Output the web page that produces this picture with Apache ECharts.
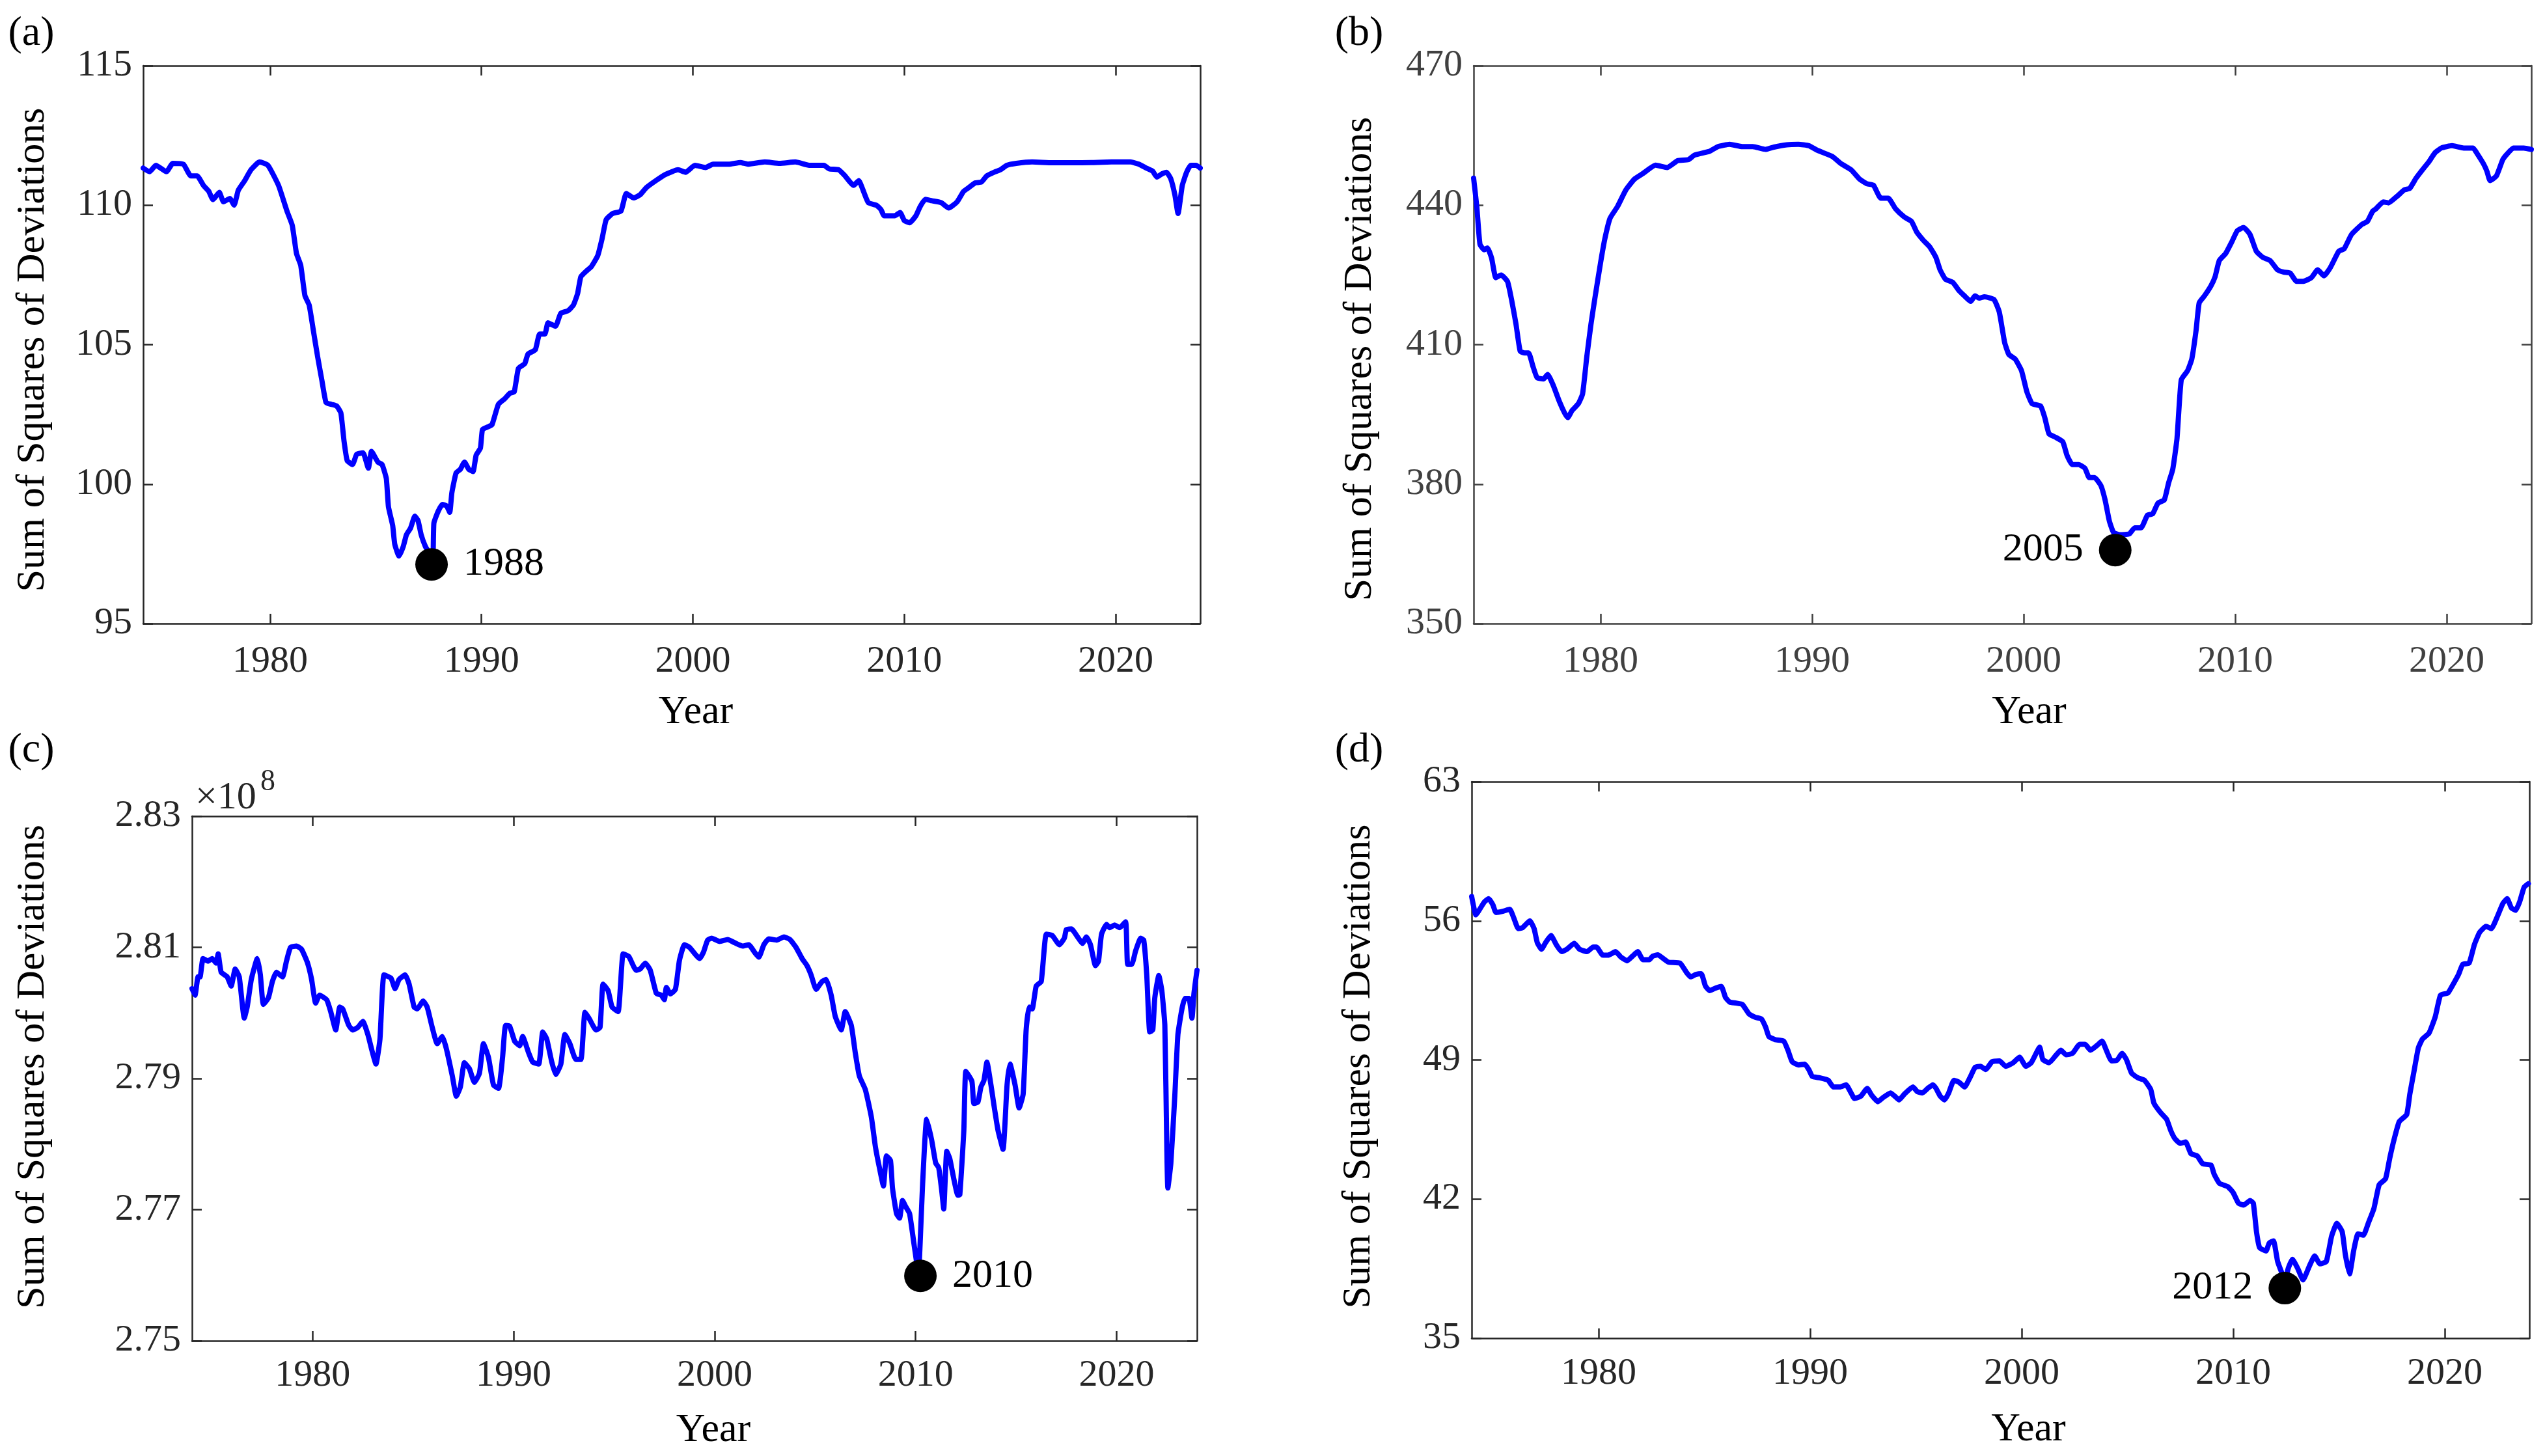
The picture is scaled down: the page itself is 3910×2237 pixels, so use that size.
<!DOCTYPE html>
<html>
<head>
<meta charset="utf-8">
<script src="https://cdn.jsdelivr.net/npm/echarts@6/dist/echarts.min.js"></script>
<style>
html,body{margin:0;padding:0;background:#fff;}
#chart{width:3910px;height:2237px;}
</style>
</head>
<body>
<div id="chart"></div>
<script>
// ---------------- data ----------------
const xTicks = [1980, 1990, 2000, 2010, 2020];
const yTicksA = [95, 100, 105, 110, 115];
const yTicksB = [350, 380, 410, 440, 470];
const yTicksC = [2.75, 2.77, 2.79, 2.81, 2.83];   // x 10^8
const yTicksD = [35, 42, 49, 56, 63];

const panelLabels = ['(a)', '(b)', '(c)', '(d)'];
const yName = 'Sum of Squares of Deviations';
const xName = 'Year';

// minimum markers [year, value] and their labels
const markA = [1987.64, 97.12];  const markLabelA = '1988';
const markB = [2004.33, 365.8];  const markLabelB = '2005';
const markC = [2010.24, 2.7599]; const markLabelC = '2010';
const markD = [2012.44, 37.52];  const markLabelD = '2012';

const seriesA = [
[1974.0,111.33],[1974.3,111.2],[1974.6,111.43],[1975.1,111.2],[1975.4,111.5],[1975.9,111.47],
[1976.25,111.05],[1976.55,111.05],[1976.85,110.71],[1977.1,110.5],[1977.3,110.2],[1977.6,110.46],
[1977.8,110.12],[1978.1,110.24],[1978.3,110.0],[1978.5,110.54],[1978.8,110.88],[1979.1,111.27],
[1979.5,111.55],[1979.9,111.43],[1980.4,110.71],[1980.8,109.79],[1981.05,109.28],[1981.25,108.27],
[1981.45,107.85],[1981.65,106.76],[1981.85,106.42],[1982.05,105.5],[1982.25,104.57],[1982.45,103.73],
[1982.65,102.92],[1982.9,102.86],[1983.15,102.8],[1983.35,102.55],[1983.5,101.54],[1983.65,100.84],
[1983.9,100.7],[1984.1,101.07],[1984.4,101.12],[1984.65,100.57],[1984.8,101.17],[1985.1,100.79],
[1985.3,100.7],[1985.5,100.2],[1985.6,99.19],[1985.8,98.52],[1985.9,97.84],[1986.1,97.42],
[1986.3,97.76],[1986.45,98.18],[1986.65,98.43],[1986.85,98.85],[1987.0,98.69],[1987.15,98.18],
[1987.35,97.76],[1987.55,97.51],[1987.7,97.3],[1987.75,98.6],[1987.95,99.02],[1988.15,99.27],
[1988.35,99.22],[1988.5,98.99],[1988.6,99.69],[1988.8,100.4],[1989.0,100.53],[1989.2,100.79],
[1989.4,100.53],[1989.6,100.45],[1989.75,101.04],[1989.95,101.29],[1990.05,101.96],[1990.3,102.05],
[1990.5,102.13],[1990.8,102.86],[1991.1,103.06],[1991.35,103.26],[1991.55,103.31],[1991.75,104.15],
[1992.05,104.32],[1992.2,104.66],[1992.55,104.82],[1992.75,105.38],[1993.0,105.38],[1993.15,105.78],
[1993.5,105.66],[1993.75,106.12],[1994.1,106.22],[1994.35,106.42],[1994.55,106.84],[1994.7,107.43],
[1994.95,107.63],[1995.2,107.8],[1995.5,108.19],[1995.7,108.78],[1995.9,109.48],[1996.2,109.7],
[1996.6,109.79],[1996.85,110.42],[1997.2,110.26],[1997.5,110.37],[1997.8,110.63],[1998.25,110.88],
[1998.7,111.1],[1999.3,111.27],[1999.65,111.18],[2000.1,111.43],[2000.6,111.35],[2000.95,111.47],
[2001.7,111.47],[2002.25,111.53],[2002.6,111.47],[2003.4,111.55],[2004.1,111.5],[2004.85,111.55],
[2005.5,111.43],[2006.2,111.43],[2006.45,111.3],[2006.9,111.27],[2007.2,111.05],[2007.6,110.71],
[2007.85,110.88],[2008.05,110.54],[2008.3,110.09],[2008.7,109.99],[2008.9,109.84],[2009.05,109.62],
[2009.55,109.62],[2009.8,109.74],[2010.0,109.45],[2010.25,109.37],[2010.55,109.62],[2010.75,109.95],
[2011.0,110.21],[2011.3,110.16],[2011.75,110.09],[2012.1,109.9],[2012.5,110.12],[2012.8,110.49],
[2013.05,110.63],[2013.35,110.8],[2013.65,110.83],[2013.9,111.05],[2014.3,111.2],[2014.55,111.27],
[2014.85,111.43],[2015.3,111.5],[2016.05,111.55],[2017.0,111.52],[2017.95,111.52],[2018.85,111.53],
[2019.8,111.55],[2020.7,111.55],[2021.1,111.47],[2021.45,111.33],[2021.75,111.22],[2021.95,111.01],
[2022.2,111.13],[2022.4,111.18],[2022.6,110.96],[2022.8,110.37],[2022.95,109.7],[2023.15,110.71],
[2023.35,111.17],[2023.55,111.43],[2023.8,111.43],[2024.0,111.33]
];

const seriesB = [
[1974.0,445.8],[1974.15,439.7],[1974.3,431.6],[1974.5,430.4],[1974.65,430.8],[1974.85,428.6],
[1975.05,424.4],[1975.3,425.0],[1975.6,423.6],[1975.8,419.5],[1976.0,414.5],[1976.2,408.6],
[1976.4,408.2],[1976.6,408.2],[1976.8,405.4],[1977.0,402.9],[1977.3,402.6],[1977.5,403.6],
[1977.75,401.4],[1978.05,397.8],[1978.3,395.3],[1978.45,394.3],[1978.65,395.8],[1978.95,397.3],
[1979.15,399.4],[1979.35,407.4],[1979.55,414.5],[1979.75,420.5],[1980.0,427.6],[1980.2,432.7],
[1980.45,437.2],[1980.8,439.7],[1981.2,443.3],[1981.6,445.6],[1982.0,446.8],[1982.6,448.6],
[1983.15,448.1],[1983.65,449.6],[1984.15,449.8],[1984.45,450.8],[1985.15,451.6],[1985.55,452.6],
[1986.1,453.1],[1986.7,452.6],[1987.2,452.6],[1987.8,452.0],[1988.2,452.5],[1988.8,453.0],
[1989.35,453.1],[1989.85,452.8],[1990.25,451.8],[1990.95,450.5],[1991.35,449.0],[1991.85,447.6],
[1992.25,445.6],[1992.6,444.6],[1992.9,444.3],[1993.25,441.5],[1993.6,441.5],[1993.95,439.2],
[1994.35,437.5],[1994.7,436.5],[1994.95,434.2],[1995.25,432.5],[1995.55,431.1],[1995.85,428.8],
[1996.05,426.1],[1996.3,424.1],[1996.65,423.4],[1996.95,421.6],[1997.2,420.5],[1997.5,419.3],
[1997.7,420.5],[1997.9,420.0],[1998.15,420.3],[1998.6,419.7],[1998.85,417.0],[1999.1,410.5],
[1999.3,407.9],[1999.6,406.9],[1999.9,404.4],[2000.15,399.9],[2000.4,397.3],[2000.8,396.8],
[2001.0,394.3],[2001.2,390.8],[2001.5,390.1],[2001.85,389.1],[2002.05,386.2],[2002.3,384.2],
[2002.6,384.2],[2002.9,383.4],[2003.1,381.4],[2003.35,381.4],[2003.65,379.7],[2003.85,376.6],
[2004.05,372.1],[2004.25,369.6],[2004.55,369.1],[2005.0,369.3],[2005.25,370.6],[2005.55,370.6],
[2005.85,373.3],[2006.1,373.6],[2006.35,375.9],[2006.65,376.6],[2006.85,380.2],[2007.05,383.2],
[2007.25,389.8],[2007.45,402.4],[2007.75,404.4],[2007.95,406.9],[2008.15,413.0],[2008.3,419.0],
[2008.55,420.5],[2008.85,422.6],[2009.05,424.6],[2009.25,428.1],[2009.55,429.6],[2009.85,432.2],
[2010.1,434.5],[2010.4,435.2],[2010.7,433.7],[2011.0,430.1],[2011.3,428.8],[2011.65,428.1],
[2012.0,426.1],[2012.3,425.6],[2012.6,425.4],[2012.9,423.6],[2013.2,423.6],[2013.6,424.4],
[2013.9,426.1],[2014.2,424.8],[2014.5,426.6],[2014.9,430.1],[2015.15,430.6],[2015.5,433.7],
[2016.0,435.9],[2016.25,436.5],[2016.5,438.7],[2016.65,439.2],[2017.0,440.7],[2017.25,440.5],
[2017.65,441.9],[2018.0,443.3],[2018.25,443.6],[2018.55,445.8],[2018.85,447.6],[2019.15,449.3],
[2019.45,451.3],[2019.75,452.3],[2020.25,452.8],[2020.8,452.3],[2021.25,452.3],[2021.45,451.0],
[2021.75,448.8],[2021.9,447.3],[2022.05,445.3],[2022.35,446.3],[2022.65,449.8],[2022.85,451.0],
[2023.15,452.3],[2023.65,452.3],[2024.0,452.0]
];

// values in units of 10^8
const seriesC = [
[1974.0,2.8037],[1974.15,2.8027],[1974.3,2.8055],[1974.4,2.8055],[1974.55,2.8083],[1974.8,2.8079],
[1975.0,2.8083],[1975.2,2.8076],[1975.3,2.809],[1975.45,2.8062],[1975.75,2.8055],[1975.95,2.8041],
[1976.15,2.8067],[1976.35,2.8055],[1976.6,2.7992],[1976.75,2.801],[1976.95,2.8051],[1977.25,2.8083],
[1977.4,2.8058],[1977.55,2.8013],[1977.8,2.8023],[1978.0,2.8048],[1978.2,2.8062],[1978.5,2.8055],
[1978.7,2.8079],[1978.9,2.81],[1979.2,2.8102],[1979.45,2.8097],[1979.75,2.8076],[1979.95,2.8051],
[1980.15,2.8015],[1980.35,2.8027],[1980.7,2.802],[1980.9,2.8002],[1981.15,2.7974],[1981.35,2.8009],
[1981.5,2.8006],[1981.8,2.7981],[1982.0,2.7974],[1982.25,2.7978],[1982.5,2.7987],[1982.75,2.7967],
[1982.95,2.7943],[1983.15,2.7922],[1983.35,2.796],[1983.55,2.8058],[1983.9,2.8053],[1984.1,2.8037],
[1984.3,2.8051],[1984.6,2.8058],[1984.8,2.8044],[1985.05,2.8009],[1985.2,2.8006],[1985.5,2.8018],
[1985.7,2.8009],[1985.95,2.7978],[1986.2,2.7953],[1986.45,2.7964],[1986.65,2.7946],[1986.95,2.7904],
[1987.15,2.7873],[1987.35,2.7887],[1987.55,2.7924],[1987.8,2.7915],[1988.05,2.7894],[1988.3,2.7908],
[1988.5,2.7953],[1988.75,2.7932],[1989.0,2.789],[1989.25,2.7885],[1989.45,2.7932],[1989.6,2.7981],
[1989.8,2.798],[1990.05,2.7957],[1990.3,2.795],[1990.45,2.7964],[1990.75,2.7939],[1990.95,2.7925],
[1991.25,2.7922],[1991.45,2.7971],[1991.65,2.796],[1991.9,2.7925],[1992.1,2.7906],[1992.35,2.7922],
[1992.55,2.7967],[1992.8,2.7953],[1993.1,2.7929],[1993.35,2.7929],[1993.55,2.8001],[1993.75,2.7992],
[1994.1,2.7974],[1994.3,2.7978],[1994.45,2.8044],[1994.7,2.8034],[1994.9,2.8009],[1995.2,2.8002],
[1995.45,2.809],[1995.73,2.8086],[1996.1,2.8065],[1996.3,2.8067],[1996.55,2.8076],[1996.8,2.8065],
[1997.1,2.803],[1997.35,2.8027],[1997.5,2.802],[1997.6,2.8039],[1997.8,2.8029],[1998.05,2.8036],
[1998.25,2.808],[1998.5,2.8104],[1998.75,2.81],[1999.25,2.8083],[1999.45,2.8093],[1999.65,2.8111],
[1999.85,2.8114],[2000.25,2.8109],[2000.65,2.8112],[2001.0,2.8107],[2001.4,2.8102],[2001.7,2.8104],
[2002.0,2.8092],[2002.2,2.8085],[2002.45,2.8104],[2002.7,2.8113],[2003.1,2.8111],[2003.45,2.8116],
[2003.75,2.8112],[2004.05,2.81],[2004.35,2.8083],[2004.6,2.8072],[2004.8,2.8058],[2005.05,2.8036],
[2005.35,2.8048],[2005.55,2.8051],[2005.8,2.8027],[2006.0,2.7995],[2006.3,2.7974],[2006.5,2.8002],
[2006.8,2.7981],[2007.0,2.7939],[2007.2,2.7904],[2007.5,2.7883],[2007.8,2.7841],[2008.0,2.7796],
[2008.2,2.7764],[2008.4,2.7736],[2008.55,2.7782],[2008.75,2.7775],[2008.85,2.7733],[2009.05,2.7694],
[2009.2,2.7687],[2009.35,2.7714],[2009.5,2.7705],[2009.7,2.7694],[2009.9,2.7652],[2010.05,2.762],
[2010.15,2.7605],[2010.22,2.7645],[2010.35,2.774],[2010.55,2.7838],[2010.8,2.7806],[2011.0,2.7771],
[2011.15,2.7764],[2011.3,2.7729],[2011.4,2.7701],[2011.55,2.7789],[2011.7,2.7778],[2011.9,2.7747],
[2012.1,2.7722],[2012.2,2.7723],[2012.4,2.7821],[2012.5,2.7911],[2012.8,2.7896],[2012.9,2.7862],
[2013.1,2.7864],[2013.25,2.7887],[2013.4,2.7897],[2013.55,2.7925],[2013.75,2.789],[2013.9,2.7859],
[2014.1,2.7821],[2014.35,2.7792],[2014.55,2.789],[2014.7,2.7922],[2014.95,2.789],[2015.15,2.7855],
[2015.35,2.7876],[2015.5,2.7974],[2015.65,2.8009],[2015.8,2.8006],[2016.0,2.8041],[2016.25,2.8048],
[2016.5,2.812],[2016.8,2.8118],[2017.15,2.8104],[2017.4,2.8114],[2017.5,2.8127],[2017.75,2.8128],
[2018.1,2.8114],[2018.3,2.8106],[2018.5,2.8116],[2018.7,2.8104],[2018.95,2.8072],[2019.1,2.8079],
[2019.25,2.812],[2019.5,2.8135],[2019.65,2.813],[2019.9,2.8134],[2020.15,2.813],[2020.45,2.8139],
[2020.55,2.8074],[2020.75,2.8074],[2020.95,2.8095],[2021.2,2.8114],[2021.35,2.8111],[2021.5,2.8058],
[2021.65,2.7971],[2021.8,2.7974],[2021.9,2.8023],[2022.1,2.8057],[2022.25,2.8034],[2022.4,2.7981],
[2022.5,2.7792],[2022.55,2.7733],[2022.7,2.7771],[2022.9,2.7876],[2023.05,2.7967],[2023.25,2.8006],
[2023.4,2.8022],[2023.6,2.8022],[2023.75,2.7992],[2023.85,2.803],[2024.0,2.8065]
];

const seriesD = [
[1974.0,57.22],[1974.2,56.3],[1974.35,56.53],[1974.6,56.95],[1974.8,57.11],[1975.0,56.81],
[1975.15,56.42],[1975.5,56.49],[1975.8,56.58],[1976.0,56.12],[1976.2,55.61],[1976.4,55.65],
[1976.75,56.0],[1976.95,55.61],[1977.1,54.91],[1977.3,54.57],[1977.5,54.91],[1977.75,55.26],
[1978.0,54.8],[1978.25,54.45],[1978.5,54.57],[1978.85,54.87],[1979.1,54.57],[1979.45,54.45],
[1979.75,54.68],[1979.9,54.68],[1980.2,54.27],[1980.45,54.27],[1980.8,54.45],[1981.05,54.18],
[1981.35,53.99],[1981.6,54.22],[1981.85,54.45],[1982.1,54.04],[1982.4,54.04],[1982.55,54.22],
[1982.8,54.29],[1983.05,54.11],[1983.3,53.92],[1983.85,53.87],[1984.15,53.41],[1984.35,53.18],
[1984.6,53.3],[1984.85,53.34],[1985.05,52.72],[1985.25,52.49],[1985.5,52.6],[1985.8,52.7],
[1986.0,52.14],[1986.2,51.91],[1986.5,51.86],[1986.8,51.79],[1987.1,51.33],[1987.4,51.15],
[1987.7,51.06],[1987.9,50.64],[1988.05,50.18],[1988.35,50.02],[1988.75,49.95],[1988.95,49.49],
[1989.15,48.91],[1989.45,48.75],[1989.75,48.79],[1989.95,48.49],[1990.1,48.17],[1990.45,48.1],
[1990.85,47.98],[1991.1,47.64],[1991.4,47.64],[1991.7,47.75],[1991.9,47.41],[1992.1,47.06],
[1992.4,47.18],[1992.7,47.57],[1992.9,47.24],[1993.2,46.9],[1993.45,47.11],[1993.8,47.34],
[1994.0,47.18],[1994.2,46.99],[1994.46,47.29],[1994.86,47.64],[1995.06,47.41],[1995.3,47.34],
[1995.56,47.57],[1995.8,47.75],[1995.95,47.57],[1996.15,47.18],[1996.35,46.99],[1996.55,47.34],
[1996.8,47.98],[1997.05,47.87],[1997.3,47.64],[1997.55,48.1],[1997.8,48.63],[1998.05,48.68],
[1998.3,48.52],[1998.6,48.91],[1998.95,48.95],[1999.25,48.68],[1999.6,48.86],[1999.9,49.14],
[2000.2,48.68],[2000.45,48.86],[2000.7,49.37],[2000.85,49.65],[2001.0,49.02],[2001.3,48.86],
[2001.6,49.21],[2001.85,49.49],[2002.1,49.26],[2002.4,49.33],[2002.75,49.79],[2003.0,49.79],
[2003.25,49.49],[2003.55,49.72],[2003.8,49.95],[2004.0,49.49],[2004.25,48.95],[2004.5,48.98],
[2004.75,49.33],[2004.95,49.02],[2005.2,48.33],[2005.5,48.1],[2005.8,47.98],[2006.1,47.52],
[2006.25,46.83],[2006.55,46.37],[2006.85,46.02],[2007.05,45.44],[2007.25,45.03],[2007.5,44.8],
[2007.75,44.87],[2008.0,44.29],[2008.3,44.17],[2008.55,43.78],[2008.95,43.71],[2009.1,43.25],
[2009.35,42.79],[2009.75,42.62],[2010.0,42.32],[2010.25,41.79],[2010.5,41.7],[2010.8,41.93],
[2010.95,41.79],[2011.1,40.36],[2011.25,39.55],[2011.55,39.39],[2011.7,39.78],[2011.9,39.9],
[2012.1,38.86],[2012.3,38.28],[2012.45,37.9],[2012.6,38.51],[2012.8,38.97],[2013.05,38.51],
[2013.3,37.93],[2013.6,38.63],[2013.85,39.14],[2014.1,38.74],[2014.4,38.86],[2014.65,40.13],
[2014.9,40.78],[2015.15,40.36],[2015.3,39.21],[2015.5,38.23],[2015.7,39.44],[2015.9,40.25],
[2016.15,40.18],[2016.4,40.83],[2016.65,41.52],[2016.9,42.72],[2017.2,43.02],[2017.4,44.06],
[2017.6,44.98],[2017.85,45.9],[2018.2,46.25],[2018.35,47.29],[2018.55,48.45],[2018.75,49.6],
[2018.95,50.06],[2019.25,50.34],[2019.55,51.17],[2019.8,52.26],[2020.15,52.37],[2020.35,52.72],
[2020.65,53.3],[2020.85,53.81],[2021.15,53.87],[2021.4,54.8],[2021.65,55.42],[2021.95,55.72],
[2022.2,55.61],[2022.5,56.25],[2022.75,56.88],[2022.95,57.11],[2023.15,56.65],[2023.35,56.53],
[2023.55,56.99],[2023.75,57.69],[2023.95,57.87]
];

// ---------------- layout / style ----------------
const FONT = 'Liberation Serif';
const BLUE = '#0000FF';

const panels = [
  { grid: {left: 220,  top: 101,  width: 1624, height: 857},
    yMin: 95, yMax: 115, yTicks: yTicksA, data: seriesA, mark: markA, markLabel: markLabelA, markPos: 'right',
    tickColor: '#262626', lineColor: '#262626', yNameGap: 138, yNamePad: [0,16,0,0], xNamePad: [0,0,0,74],
    xNameGap: 106, xLabelMargin: 30, dec: 0 },
  { grid: {left: 2264, top: 101,  width: 1625, height: 857},
    yMin: 350, yMax: 470, yTicks: yTicksB, data: seriesB, mark: markB, markLabel: markLabelB, markPos: 'left',
    tickColor: '#404040', lineColor: '#404040', yNameGap: 143, yNamePad: [0,44,0,0], xNamePad: [0,0,0,82],
    xNameGap: 106, xLabelMargin: 30, dec: 0 },
  { grid: {left: 295,  top: 1254, width: 1544, height: 806},
    yMin: 2.75, yMax: 2.83, yTicks: yTicksC, data: seriesC, mark: markC, markLabel: markLabelC, markPos: 'right',
    tickColor: '#262626', lineColor: '#262626', yNameGap: 213, yNamePad: [0,0,0,36], xNamePad: [0,0,0,58],
    xNameGap: 107, xLabelMargin: 25, dec: 2 },
  { grid: {left: 2261, top: 1201, width: 1625, height: 855},
    yMin: 35, yMax: 63, yTicks: yTicksD, data: seriesD, mark: markD, markLabel: markLabelD, markPos: 'left',
    tickColor: '#262626', lineColor: '#262626', yNameGap: 142, yNamePad: [0,20,0,0], xNamePad: [0,0,0,86],
    xNameGap: 110, xLabelMargin: 26, dec: 0 }
];

const grids = [], xAxes = [], yAxes = [], series = [];

panels.forEach((p, i) => {
  grids.push(Object.assign({containLabel: false}, p.grid));
  const axisLine = {show: true, onZero: false, lineStyle: {color: p.lineColor, width: 2.5}};
  const tick = (vals) => ({show: true, inside: true, length: 15, customValues: vals,
                           lineStyle: {color: p.lineColor, width: 2.5}});
  // bottom x
  xAxes.push({
    type: 'value', gridIndex: i, position: 'bottom', min: 1974, max: 2024,
    axisLine, axisTick: tick(xTicks), splitLine: {show: false},
    axisLabel: {customValues: xTicks, fontFamily: FONT, fontSize: 58, color: p.tickColor, margin: p.xLabelMargin,
                formatter: v => String(v)},
    name: xName, nameLocation: 'middle', nameGap: p.xNameGap,
    nameTextStyle: {fontFamily: FONT, fontSize: 62, color: '#000', padding: p.xNamePad}
  });
  // top x (box + mirrored ticks)
  xAxes.push({
    type: 'value', gridIndex: i, position: 'top', min: 1974, max: 2024,
    axisLine, axisTick: tick(xTicks), splitLine: {show: false}, axisLabel: {show: false}
  });
  // left y
  yAxes.push({
    type: 'value', gridIndex: i, position: 'left', min: p.yMin, max: p.yMax,
    axisLine, axisTick: tick(p.yTicks), splitLine: {show: false},
    axisLabel: {customValues: p.yTicks, fontFamily: FONT, fontSize: 58, color: p.tickColor, margin: 17,
                formatter: v => Number(v).toFixed(p.dec)},
    name: yName, nameLocation: 'middle', nameGap: p.yNameGap, nameRotate: 90,
    nameTextStyle: {fontFamily: FONT, fontSize: 62, color: '#000', padding: p.yNamePad}
  });
  // right y
  yAxes.push({
    type: 'value', gridIndex: i, position: 'right', min: p.yMin, max: p.yMax,
    axisLine, axisTick: tick(p.yTicks), splitLine: {show: false}, axisLabel: {show: false}
  });

  series.push({
    type: 'line', xAxisIndex: 2 * i, yAxisIndex: 2 * i, data: p.data,
    showSymbol: false, symbol: 'none', smooth: 0.15, clip: true, z: 2,
    lineStyle: {color: BLUE, width: 8, join: 'round', cap: 'round'}, animation: false
  });
  series.push({
    type: 'scatter', xAxisIndex: 2 * i, yAxisIndex: 2 * i, data: [p.mark],
    symbol: 'circle', symbolSize: 50, z: 5, itemStyle: {color: '#000', opacity: 1}, animation: false,
    label: {show: true, formatter: p.markLabel, position: p.markPos, distance: 24,
            fontFamily: FONT, fontSize: 62, color: '#000'},
    emphasis: {disabled: true}
  });
});

const labelPos = [[48, 52], [2088, 52], [48, 1153], [2088, 1153]];
const graphic = panelLabels.map((t, i) => ({
  type: 'text', x: labelPos[i][0], y: labelPos[i][1], z: 10,
  style: {text: t, fontFamily: FONT, fontSize: 64, fill: '#000', textAlign: 'center', textVerticalAlign: 'middle'}
}));
// exponent label of panel (c)
graphic.push({type: 'text', x: 300, y: 1226, z: 10,
  style: {text: '×10', fontFamily: FONT, fontSize: 60, fill: '#262626', textAlign: 'left', textVerticalAlign: 'middle'}});
graphic.push({type: 'text', x: 400, y: 1202, z: 10,
  style: {text: '8', fontFamily: FONT, fontSize: 46, fill: '#262626', textAlign: 'left', textVerticalAlign: 'middle'}});

const chart = echarts.init(document.getElementById('chart'), null, {renderer: 'canvas', devicePixelRatio: 1});
chart.setOption({
  backgroundColor: '#fff',
  animation: false,
  grid: grids, xAxis: xAxes, yAxis: yAxes, series: series,
  graphic: graphic
});
</script>
</body>
</html>
